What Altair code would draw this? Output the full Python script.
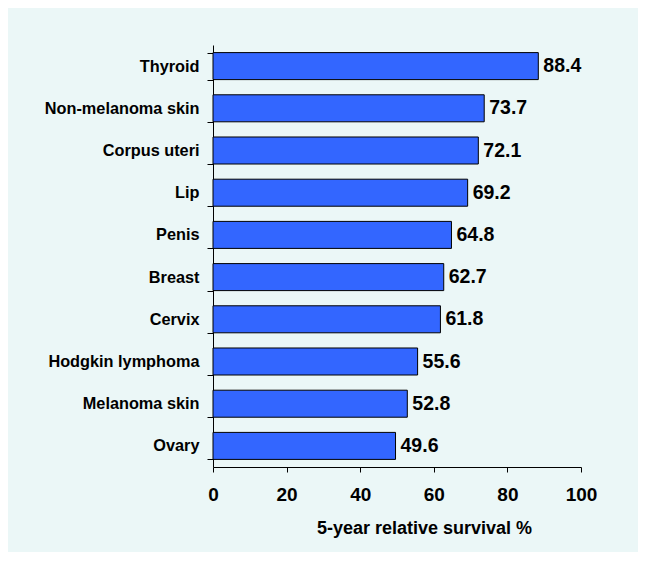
import altair as alt
import pandas as pd

categories = ["Thyroid", "Non-melanoma skin", "Corpus uteri", "Lip", "Penis",
              "Breast", "Cervix", "Hodgkin lymphoma", "Melanoma skin", "Ovary"]
values = [88.4, 73.7, 72.1, 69.2, 64.8, 62.7, 61.8, 55.6, 52.8, 49.6]
x_ticks = [0, 20, 40, 60, 80, 100]

df = pd.DataFrame({"site": categories, "survival": values})

FONT = "Liberation Sans"

y_enc = alt.Y("site:N", sort=categories, title=None,
              scale=alt.Scale(paddingInner=0.36, paddingOuter=0.18),
              axis=alt.Axis(tickBand="extent", tickSize=6, labelPadding=8,
                            labelFontSize=16.3, labelFontWeight="bold",
                            labelFont=FONT, labelColor="black",
                            domainColor="black", tickColor="black",
                            labelLimit=300))
x_enc = alt.X("survival:Q", title="5-year relative survival %",
              scale=alt.Scale(domain=[0, 100], nice=False),
              axis=alt.Axis(values=x_ticks, grid=False, tickSize=5,
                            labelPadding=13, labelFontSize=19,
                            labelFlush=False, labelOverlap=False,
                            labelFontWeight="bold", labelFont=FONT,
                            labelColor="black", domainColor="black",
                            tickColor="black", titleFont=FONT,
                            titleFontSize=18, titleFontWeight="bold",
                            titleColor="black", titleX=211, titleY=66,
                            titleBaseline="alphabetic", titleAlign="center"))

bars = alt.Chart(df).mark_bar(color="#3366FF", stroke="black",
                              strokeWidth=1).encode(y=y_enc, x=x_enc)

labels = alt.Chart(df).mark_text(align="left", baseline="middle", dx=5,
                                 font=FONT, fontSize=19.5, fontWeight="bold",
                                 color="black").encode(
    y=alt.Y("site:N", sort=categories),
    x=alt.X("survival:Q"),
    text=alt.Text("survival:Q", format=".1f"))

chart = (bars + labels).properties(
    width=368, height=422,
    autosize=alt.AutoSizeParams(type="none"),
    padding={"left": 205, "top": 37, "right": 57, "bottom": 85},
    background="#EBF7F7",
).configure_view(stroke=None)

chart.save("out.html", embed_options={"renderer": "svg", "actions": False})
